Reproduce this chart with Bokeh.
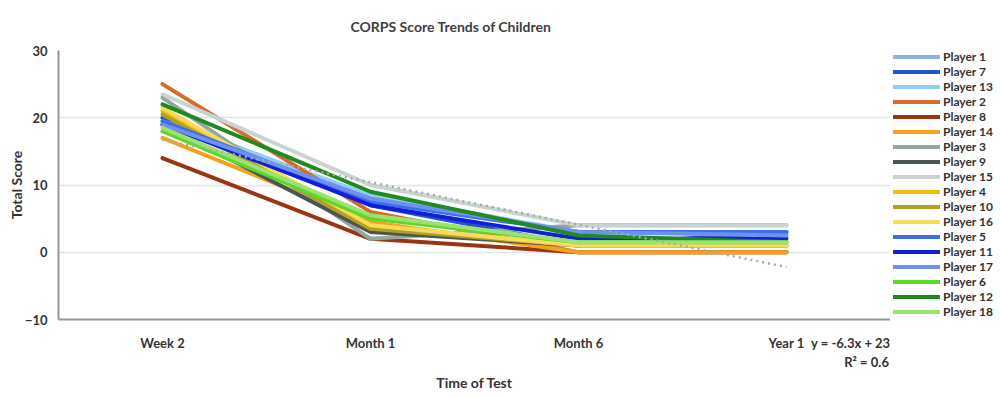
from bokeh.plotting import figure
from bokeh.models import FixedTicker, Legend, LegendItem, LinearAxis
from bokeh.layouts import row
from bokeh.embed import file_html
from bokeh.resources import INLINE

categories = ["Week 2", "Month 1", "Month 6", "Year 1"]
players = ["Player 1", "Player 7", "Player 13", "Player 2", "Player 8", "Player 14",
           "Player 3", "Player 9", "Player 15", "Player 4", "Player 10", "Player 16",
           "Player 5", "Player 11", "Player 17", "Player 6", "Player 12", "Player 18"]
colors = ["#8EB4E3", "#2155CD", "#92CDF5", "#D9692B", "#9A3412", "#F4A21E",
          "#95A5A0", "#4B5554", "#C8D4CF", "#F5BC10", "#B5A020", "#F7DC5C",
          "#3A6EEA", "#1020D8", "#7090F0", "#5CD82A", "#208A20", "#9BE36E"]
p1 = [20, 8, 3, 3]
p7 = [20, 7, 1, 3]
p13 = [19.5, 8.5, 3, 3]
p2 = [25, 6, 0, 0]
p8 = [14, 2, 0, 0]
p14 = [17, 4.5, 0, 0]
p3 = [23, 2, 4, 4]
p9 = [19, 3, 1, 1]
p15 = [23.5, 10, 4, 4]
p4 = [21, 4, 1, 1]
p10 = [20.5, 3.5, 1, 1]
p16 = [21.5, 4, 1, 1]
p5 = [19.5, 7.5, 3, 3]
p11 = [19, 7, 2, 2]
p17 = [19, 8, 3, 2.5]
p6 = [18, 5, 1.5, 1.5]
p12 = [22, 9, 2.5, 1.5]
p18 = [18.5, 5.5, 1.5, 1.5]
series = [p1, p7, p13, p2, p8, p14, p3, p9, p15, p4, p10, p16, p5, p11, p17, p6, p12, p18]
trend_slope = -6.3
trend_intercept = 23
trend_text = "y = -6.3x + 23"
r2_text = "R² = 0.6"
y_ticks = [-10, 0, 10, 20, 30]

FONT = "Lato"
TXT = "#333333"

p = figure(width=890, height=398, x_range=categories, y_range=(-10, 30),
           output_backend="svg", toolbar_location=None, x_axis_location=None,
           min_border_left=58, min_border_right=0, min_border_top=50, min_border_bottom=79)
p.x_range.range_padding = 0
p.outline_line_color = None

for col, vals in zip(colors, series):
    p.line(categories, vals, line_color=col, line_width=4, line_cap="round", line_join="round")

trend_y = [trend_slope * (i + 1) + trend_intercept for i in range(len(categories))]
p.line(categories, trend_y, line_color="#A3ABAB", line_width=2.5, line_dash="2 4")

# x axes: category labels + trend equation on the same rows
cat_pos = [i + 0.5 for i in range(len(categories))]
ax1 = LinearAxis(ticker=FixedTicker(ticks=cat_pos + [3.84]))
ax1.major_label_overrides = {**{pos: c for pos, c in zip(cat_pos, categories)}, 3.84: trend_text}
ax2 = LinearAxis(ticker=FixedTicker(ticks=[3.885]), axis_label="Time of Test")
ax2.major_label_overrides = {3.885: r2_text}
ax2.axis_line_color = None
p.add_layout(ax1, "below")
p.add_layout(ax2, "below")

p.yaxis.ticker = FixedTicker(ticks=y_ticks)
p.ygrid.ticker = FixedTicker(ticks=y_ticks)
p.xgrid.grid_line_color = None
p.ygrid.grid_line_color = "#DFE7E7"
p.ygrid.grid_line_width = 1.5
for ax in (ax1, ax2, p.yaxis[0]):
    ax.major_tick_line_color = None
    ax.minor_tick_line_color = None
    ax.major_tick_out = 0
    ax.major_tick_in = 0
    ax.minor_tick_out = 0
    ax.major_label_text_font = FONT
    ax.major_label_text_font_style = "bold"
    ax.major_label_text_font_size = "13px"
    ax.major_label_text_color = TXT
    ax.axis_label_text_font = FONT
    ax.axis_label_text_font_style = "bold"
    ax.axis_label_text_font_size = "14px"
    ax.axis_label_text_color = TXT
ax1.axis_line_color = "#8C9A9A"
ax1.axis_line_width = 2
p.yaxis.axis_line_color = "#8C9A9A"
p.yaxis.axis_line_width = 2
p.yaxis.axis_label = "Total Score"
p.yaxis.major_label_standoff = 11
p.yaxis.axis_label_standoff = -3
ax1.major_label_standoff = 15
ax2.major_label_standoff = 0
ax2.axis_label_standoff = 1

p.title.text = "CORPS Score Trends of Children"
p.title.align = "left"
p.title.offset = 292
p.title.standoff = 31
p.title.text_font = FONT
p.title.text_font_style = "bold"
p.title.text_font_size = "14px"
p.title.text_color = "#404040"

# legend panel
lf = figure(width=110, height=398, x_range=(0, 1), y_range=(0, 1),
            output_backend="svg", toolbar_location=None,
            x_axis_location=None, y_axis_location=None, min_border=0)
lf.outline_line_color = None
lf.xgrid.visible = False
lf.ygrid.visible = False
items = []
nan = float("nan")
for name, col in zip(players, colors):
    r = lf.line(x=[nan], y=[nan], line_color=col, line_width=4, line_cap="round")
    items.append(LegendItem(label=name, renderers=[r]))
legend = Legend(items=items, location=(3, 0), orientation="vertical",
                glyph_width=47, glyph_height=15, label_height=15, spacing=0,
                padding=0, margin=0, label_standoff=3,
                border_line_color=None, background_fill_alpha=0,
                label_text_font=FONT, label_text_font_style="bold",
                label_text_font_size="12px", label_text_color=TXT)
lf.add_layout(legend, "center")

layout = row(p, lf, spacing=0)
open("out.html", "w").write(file_html(layout, INLINE))
